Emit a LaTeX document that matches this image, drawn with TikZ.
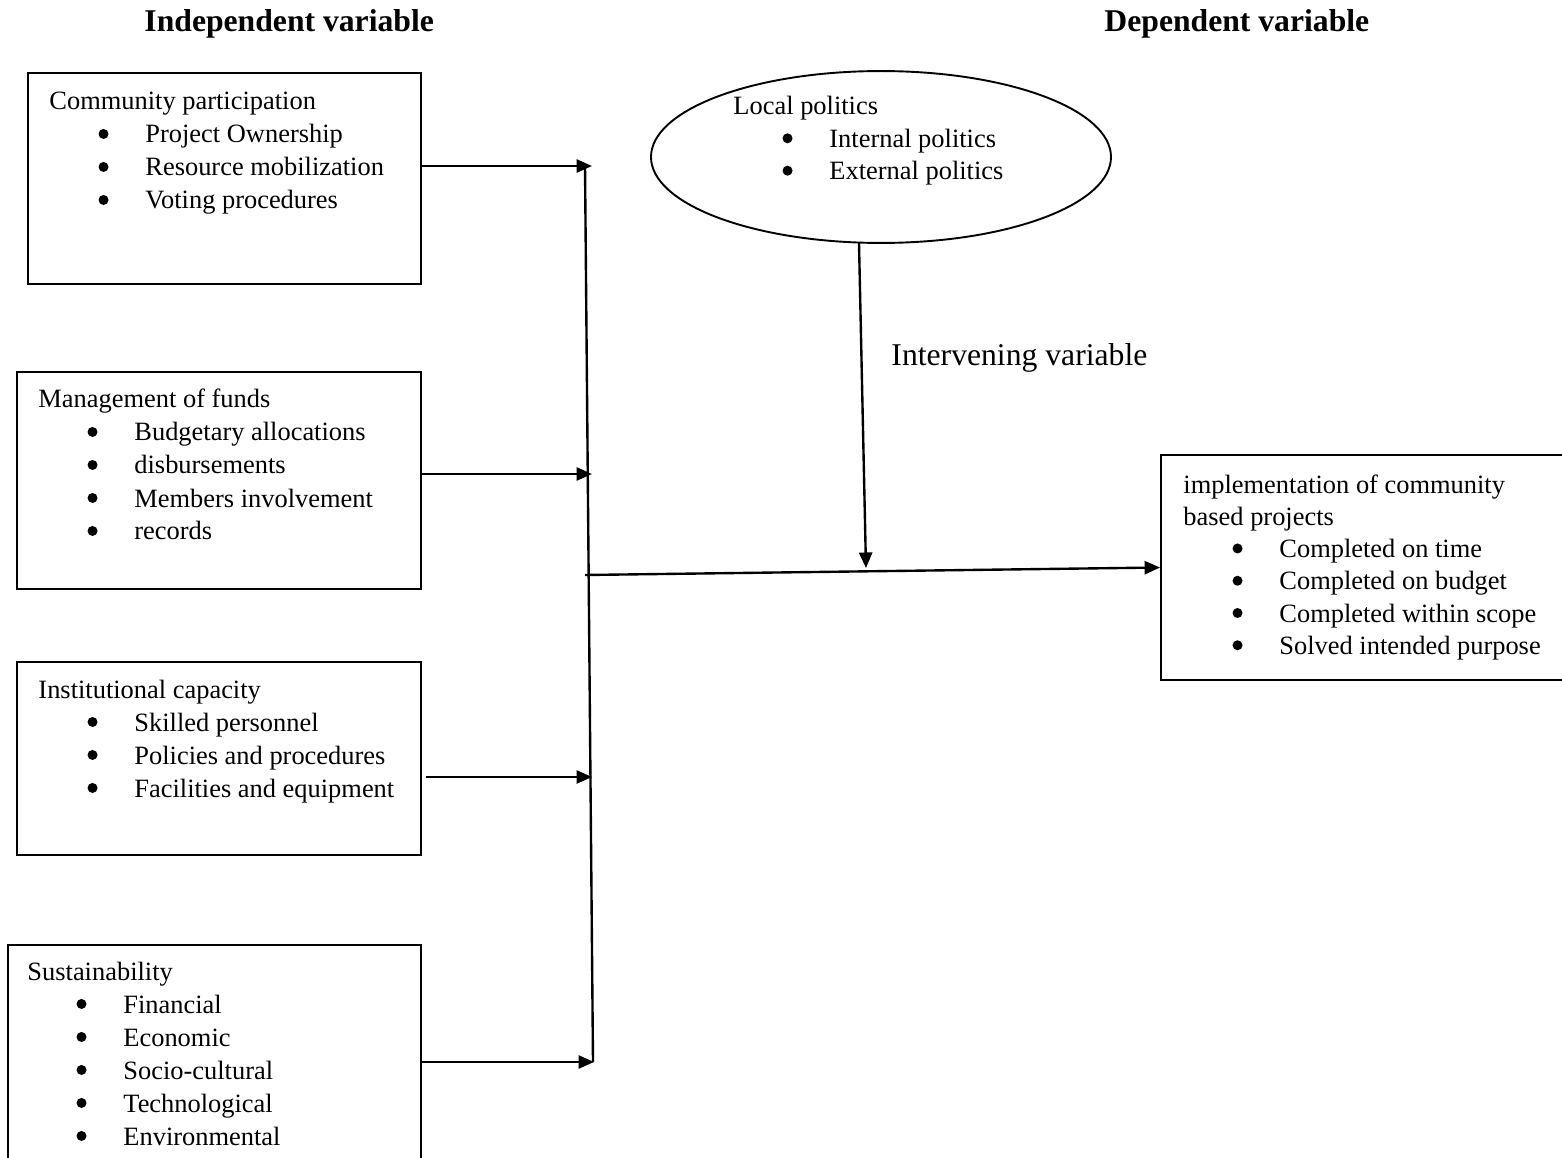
\documentclass[tikz,border=0pt]{standalone}
\usepackage{fontspec}
\setmainfont{Liberation Serif}
\usetikzlibrary{arrows.meta,fit,shapes.geometric}

\newcommand{\dotb}{\tikz[baseline=0pt]\fill (0,3.8pt) circle (2.1pt);}
\newcommand{\itm}[1]{\hspace*{20.6pt}\makebox[19.7pt][l]{\dotb}#1}
\newcommand{\blist}[1]{\begin{tabular}[t]{@{}l@{}}#1\end{tabular}}

\begin{document}
\begin{tikzpicture}[x=0.42pt,y=-0.42pt,
  box/.style={draw,line width=0.8pt,inner sep=0pt},
  txt/.style={anchor=base west,inner sep=0pt,font=\fontsize{11.1}{13.86}\selectfont},
  big/.style={anchor=base west,inner sep=0pt,font=\fontsize{13.3}{16}\selectfont},
  arr/.style={line width=1pt,-{Triangle[length=6.5pt,width=5.5pt]}}]
\useasboundingbox (0,0) rectangle (1562,1158);

\node[big,font=\fontsize{13.3}{16}\selectfont\bfseries] (indep) at (144,32) {Independent variable};
\node[big,font=\fontsize{13.3}{16}\selectfont\bfseries] (dep) at (1104,32) {Dependent variable};

\node[box,fit={(28,73) (421,284)}] (cp) {};
\node[txt] (cptxt) at (49,110) {\blist{Community participation\\
  \itm{Project Ownership}\\
  \itm{Resource mobilization}\\
  \itm{Voting procedures}}};

\node[box,fit={(17,372) (421,589)}] (mf) {};
\node[txt] (mftxt) at (38,408) {\blist{Management of funds\\
  \itm{Budgetary allocations}\\
  \itm{disbursements}\\
  \itm{Members involvement}\\
  \itm{records}}};

\node[box,fit={(17,662) (421,855)}] (ic) {};
\node[txt] (ictxt) at (38,698) {\blist{Institutional capacity\\
  \itm{Skilled personnel}\\
  \itm{Policies and procedures}\\
  \itm{Facilities and equipment}}};

\node[box,fit={(8,945) (421,1180)}] (su) {};
\node[txt] (sutxt) at (27,980) {\blist{Sustainability\\
  \itm{Financial}\\
  \itm{Economic}\\
  \itm{Socio-cultural}\\
  \itm{Technological}\\
  \itm{Environmental}}};

\node[draw,ellipse,line width=0.8pt,inner sep=0pt,minimum width=193.2pt,minimum height=72.2pt] (lp) at (881,157) {};
\node[txt,font=\fontsize{11.1}{13.6}\selectfont] (lptxt) at (733,115) {\blist{Local politics\\
  \itm{Internal politics}\\
  \itm{External politics}}};

\node[box,fit={(1161,455) (1580,680)}] (im) {};
\node[txt,font=\fontsize{11.1}{13.55}\selectfont] (imtxt) at (1183,493) {\blist{implementation of community\\
  based projects\\
  \itm{Completed on time}\\
  \itm{Completed on budget}\\
  \itm{Completed within scope}\\
  \itm{Solved intended purpose}}};

\node[big] (iv) at (891,365) {Intervening variable};

\coordinate (jtop) at (585,165);
\coordinate (jbot) at (593,1062);
\coordinate (j1) at (592,166);
\coordinate (j2) at (592,474);
\coordinate (j3) at (592,777);
\coordinate (j4) at (594,1062);
\coordinate (jmid) at (585,575);
\coordinate (ivtop) at (859,243);
\coordinate (ivend) at (866,568);

\draw[line width=1pt] (jtop) -- (jbot);
\draw[arr] (cp.east |- j1) -- (j1);
\draw[arr] (mf.east |- j2) -- (j2);
\draw[arr] ([xshift=1.5pt]ic.east |- j3) -- (j3);
\draw[arr] (su.east |- j4) -- (j4);
\draw[arr] (jmid) -- (im.west);
\draw[arr] (ivtop) -- (ivend);
\end{tikzpicture}
\end{document}
